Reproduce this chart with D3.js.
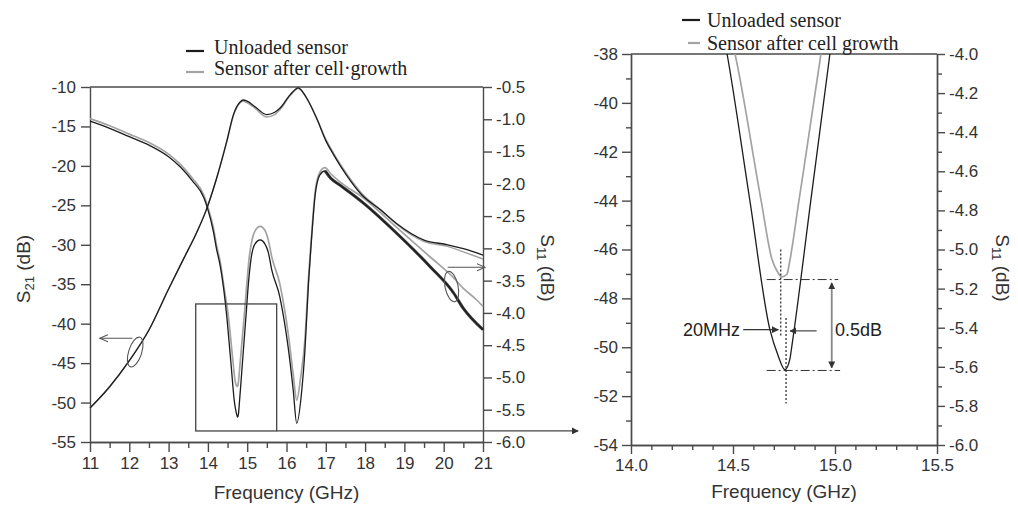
<!DOCTYPE html>
<html><head><meta charset="utf-8">
<script src="https://cdn.jsdelivr.net/npm/d3@7"></script>
<style>body{margin:0;background:#fff} svg{display:block}</style>
</head><body><svg id="c" width="1018" height="505"></svg>
<script>
// ---------------- DATA ----------------
// Frequency (GHz), S21 (dB) – left axis of left panel
const s21Unloaded = [[11.0,-50.7],[11.5,-48.0],[12.0,-44.7],[12.5,-40.8],[13.0,-35.6],[13.4,-31.6],[13.7,-28.6],[13.95,-25.7],[14.22,-21.6],[14.48,-16.9],[14.65,-13.5],[14.82,-11.9],[14.90,-11.65],[15.0,-11.8],[15.2,-12.5],[15.5,-13.5],[15.7,-13.2],[15.83,-12.7],[16.09,-11.0],[16.30,-10.1],[16.5,-11.3],[16.77,-14.0],[17.0,-16.8],[17.2,-18.6],[17.53,-21.2],[17.9,-23.6],[18.4,-25.6],[18.8,-27.3],[19.5,-29.4],[20.1,-30.0],[20.5,-30.5],[21.0,-31.3]];
const s21Loaded = [[11.0,-50.7],[11.5,-48.0],[12.0,-44.7],[12.5,-40.8],[13.0,-35.6],[13.4,-31.6],[13.7,-28.6],[13.95,-25.7],[14.22,-21.6],[14.48,-16.9],[14.65,-13.6],[14.82,-12.0],[14.90,-11.8],[15.0,-12.0],[15.2,-12.7],[15.5,-13.8],[15.7,-13.5],[15.83,-12.9],[16.09,-11.1],[16.30,-10.2],[16.5,-11.3],[16.77,-14.0],[17.0,-16.6],[17.2,-18.4],[17.53,-21.0],[17.9,-23.4],[18.4,-25.6],[18.8,-27.4],[19.5,-29.6],[20.1,-30.2],[20.5,-30.9],[21.0,-31.8]];
// Frequency (GHz), S11 (dB) – right axis
const s11Unloaded = [[11.0,-1.03],[11.5,-1.14],[12.0,-1.27],[12.5,-1.40],[13.0,-1.58],[13.3,-1.74],[13.6,-1.95],[13.9,-2.22],[14.0,-2.40],[14.14,-2.74],[14.22,-3.01],[14.31,-3.26],[14.40,-3.62],[14.471,-4.0],[14.582,-4.745],[14.681,-5.41],[14.72,-5.54],[14.755,-5.615],[14.779,-5.56],[14.789,-5.49],[14.882,-4.745],[14.975,-4.0],[15.03,-3.55],[15.10,-3.15],[15.2,-2.93],[15.33,-2.87],[15.45,-2.93],[15.54,-3.07],[15.62,-3.32],[15.83,-3.75],[16.05,-4.57],[16.17,-5.19],[16.26,-5.71],[16.39,-5.19],[16.47,-4.57],[16.56,-3.54],[16.62,-3.0],[16.73,-2.17],[16.85,-1.86],[16.98,-1.80],[17.12,-1.91],[17.36,-2.02],[17.96,-2.30],[18.81,-2.77],[19.65,-3.28],[20.24,-3.68],[20.5,-3.93],[21.0,-4.26]];
const s11Loaded = [[11.0,-0.99],[11.5,-1.10],[12.0,-1.23],[12.5,-1.36],[13.0,-1.54],[13.3,-1.70],[13.6,-1.91],[13.9,-2.18],[14.0,-2.36],[14.14,-2.68],[14.22,-2.95],[14.31,-3.20],[14.42,-3.64],[14.510,-4.0],[14.637,-4.745],[14.691,-5.05],[14.716,-5.11],[14.740,-5.14],[14.765,-5.125],[14.775,-5.078],[14.824,-4.745],[14.931,-4.0],[14.99,-3.55],[15.05,-3.15],[15.12,-2.88],[15.2,-2.73],[15.33,-2.66],[15.45,-2.72],[15.54,-2.88],[15.62,-3.12],[15.83,-3.55],[16.05,-4.35],[16.17,-4.95],[16.26,-5.35],[16.36,-5.0],[16.47,-4.4],[16.56,-3.45],[16.62,-2.95],[16.73,-2.12],[16.85,-1.82],[16.98,-1.75],[17.12,-1.84],[17.36,-1.97],[17.96,-2.22],[18.81,-2.68],[19.65,-3.13],[20.24,-3.45],[20.5,-3.62],[20.84,-3.80],[21.0,-3.90]];

const seriesNames = ["Unloaded sensor", "Sensor after cell\u00b7growth", "Sensor after cell growth"];

// ticks
const leftPanelXTicks = [11,12,13,14,15,16,17,18,19,20,21];
const leftPanelXMinor = [11.5,12.5,13.5,14.5,15.5,16.5,17.5,18.5,19.5,20.5];
const leftPanelS21Ticks = [-55,-50,-45,-40,-35,-30,-25,-20,-15,-10];
const leftPanelS11Ticks = [-6.0,-5.5,-5.0,-4.5,-4.0,-3.5,-3.0,-2.5,-2.0,-1.5,-1.0,-0.5];
const rightPanelXTicks = [14.0,14.5,15.0,15.5];
const rightPanelXMinor = [14.1,14.2,14.3,14.4,14.6,14.7,14.8,14.9,15.1,15.2,15.3,15.4];
const rightPanelLeftTicks = [-54,-52,-50,-48,-46,-44,-42,-40,-38];
const rightPanelLeftMinor = [-53,-51,-49,-47,-45,-43,-41,-39];
const rightPanelS11Ticks = [-6.0,-5.8,-5.6,-5.4,-5.2,-5.0,-4.8,-4.6,-4.4,-4.2,-4.0];
const rightPanelS11Minor = [-5.9,-5.7,-5.5,-5.3,-5.1,-4.9,-4.7,-4.5,-4.3,-4.1];

// annotations (left panel: GHz, S21 dB) 
const ellipseMarks = [{f:12.15, v:-43.6, rot:18}, {f:20.2, v:-35.3, rot:-12}];
const ellipseArrows = [{f0:12.08, f1:11.25, v:-41.85}, {f0:20.1, f1:21.05, v:-32.85}];
const zoomBox = {f0:13.69, f1:15.75, v0:-53.6, v1:-37.5, fArrow:23.42};
// right panel annotations (GHz, left-axis dB)
const dottedLines = [{f:14.734, v0:-46.0, v1:-49.55}, {f:14.76, v0:-48.8, v1:-52.3}];
const dashDotLines = [{v:-47.23, f0:14.665, f1:15.016}, {v:-50.95, f0:14.665, f1:15.025}];
const deltaArrow = {f:14.984, v0:-47.37, v1:-50.84};
const mhzArrows = [{f0:14.55, f1:14.722, v:-49.28}, {f0:14.91, f1:14.78, v:-49.33}];
const noteLabels = [{text:"20MHz", f:14.534, v:-49.55, anchor:"end"}, {text:"0.5dB", f:15.0, v:-49.55, anchor:"start"}];

// ---------------- DRAW ----------------
const svg = d3.select('#c');
const SANS = "'Liberation Sans', Arial, sans-serif";
const SERIF = "'Liberation Serif', 'Times New Roman', serif";
const AX = '#4a4a4a', TXT = '#333';
const BLACK = '#1c1c1c', GRAY = '#a3a3a3';

const defs = svg.append('defs');
defs.append('marker').attr('id','tri').attr('viewBox','0 0 10 10').attr('refX',9).attr('refY',5)
  .attr('markerWidth',7).attr('markerHeight',7).attr('markerUnits','userSpaceOnUse').attr('orient','auto-start-reverse')
  .append('path').attr('d','M0,0L10,5L0,10z').attr('fill','#333');
defs.append('marker').attr('id','chev').attr('viewBox','0 0 10 10').attr('refX',9).attr('refY',5)
  .attr('markerWidth',9).attr('markerHeight',9).attr('markerUnits','userSpaceOnUse').attr('orient','auto')
  .append('path').attr('d','M0,1L9,5L0,9').attr('fill','none').attr('stroke','#555').attr('stroke-width',1.2);
defs.append('clipPath').attr('id','clipR').append('rect').attr('x',631).attr('y',54).attr('width',306).attr('height',391);

// ===== Left panel =====
const xL = d3.scaleLinear([11,21],[90,483]);
const yL = d3.scaleLinear([-55,-10],[442,87]);
const yLR = d3.scaleLinear([-6,-0.5],[442,87]);

function styleAxis(g){
  g.selectAll('path,line').attr('stroke',AX).attr('stroke-width',1.4);
  g.selectAll('text').attr('font-family',SANS).attr('font-size',17).attr('fill',TXT);
}
const fmt1 = d => d.toFixed(1);
const fmt0 = d => String(d);

const gL = svg.append('g');
// frame top
gL.append('line').attr('x1',xL(11)).attr('x2',xL(21)).attr('y1',yL(-10)).attr('y2',yL(-10)).attr('stroke',AX).attr('stroke-width',1.4);
gL.append('g').attr('transform',`translate(0,${yL(-55)})`).call(d3.axisBottom(xL).tickValues(leftPanelXMinor).tickSize(6).tickSizeOuter(0).tickFormat('')).call(styleAxis);
gL.append('g').attr('transform',`translate(0,${yL(-55)})`).call(d3.axisBottom(xL).tickValues(leftPanelXTicks).tickSize(10).tickSizeOuter(0).tickPadding(5).tickFormat(fmt0)).call(styleAxis);
gL.append('g').attr('transform',`translate(${xL(11)},0)`).call(d3.axisLeft(yL).tickValues(leftPanelS21Ticks).tickSize(9).tickSizeOuter(0).tickPadding(5).tickFormat(fmt0)).call(styleAxis);
gL.append('g').attr('transform',`translate(${xL(21)},0)`).call(d3.axisRight(yLR).tickValues(leftPanelS11Ticks).tickSize(9).tickSizeOuter(0).tickPadding(4).tickFormat(fmt1)).call(styleAxis);

const lineS21 = d3.line().x(d=>xL(d[0])).y(d=>yL(d[1])).curve(d3.curveMonotoneX);
const lineS11 = d3.line().x(d=>xL(d[0])).y(d=>yLR(d[1])).curve(d3.curveMonotoneX);
gL.append('path').attr('d',lineS11(s11Loaded)).attr('fill','none').attr('stroke',GRAY).attr('stroke-width',1.7);
gL.append('path').attr('d',lineS21(s21Loaded)).attr('fill','none').attr('stroke',GRAY).attr('stroke-width',1.5);
gL.append('path').attr('d',lineS11(s11Unloaded)).attr('fill','none').attr('stroke',BLACK).attr('stroke-width',1.3);
gL.append('path').attr('d',lineS11(s11Unloaded.filter(d=>d[0]>=16.95))).attr('fill','none').attr('stroke',BLACK).attr('stroke-width',3).attr('opacity',0.85);
gL.append('path').attr('d',lineS21(s21Unloaded)).attr('fill','none').attr('stroke',BLACK).attr('stroke-width',1.3);

// annotations
ellipseMarks.forEach(e=>{
  gL.append('ellipse').attr('cx',0).attr('cy',0).attr('rx',6.5).attr('ry',15.5)
    .attr('transform',`translate(${xL(e.f)},${yL(e.v)}) rotate(${e.rot})`)
    .attr('fill','none').attr('stroke','#555').attr('stroke-width',1.1);
});
ellipseArrows.forEach(a=>{
  gL.append('line').attr('x1',xL(a.f0)).attr('x2',xL(a.f1)).attr('y1',yL(a.v)).attr('y2',yL(a.v))
    .attr('stroke','#555').attr('stroke-width',1.1).attr('marker-end','url(#chev)');
});
gL.append('rect').attr('x',xL(zoomBox.f0)).attr('y',yL(zoomBox.v1)).attr('width',xL(zoomBox.f1)-xL(zoomBox.f0)).attr('height',yL(zoomBox.v0)-yL(zoomBox.v1))
  .attr('fill','none').attr('stroke','#444').attr('stroke-width',1.3);
gL.append('line').attr('x1',xL(zoomBox.f1)).attr('x2',xL(zoomBox.fArrow)).attr('y1',yL(zoomBox.v0)).attr('y2',yL(zoomBox.v0))
  .attr('stroke','#444').attr('stroke-width',1.3).attr('marker-end','url(#tri)');

// titles
gL.append('text').attr('x',(xL(11)+xL(21))/2).attr('y',499).attr('text-anchor','middle').attr('font-family',SANS).attr('font-size',19).attr('fill',TXT).text('Frequency (GHz)');
function subTitle(g, x, y, rot, sub){
  const t = g.append('text').attr('transform',`translate(${x},${y}) rotate(${rot})`).attr('text-anchor','middle')
    .attr('font-family',SANS).attr('font-size',19).attr('fill',TXT);
  t.append('tspan').text('S');
  t.append('tspan').attr('font-size',13).attr('dy',4).text(sub);
  t.append('tspan').attr('dy',-4).text(' (dB)');
}
subTitle(gL, 30, 269, -90, '21');
subTitle(gL, 541, 268, 90, '11');

// legend left
function legend(g, x0, x1, xt, items){
  items.forEach(it=>{
    g.append('line').attr('x1',it.lx0).attr('x2',x1).attr('y1',it.ly).attr('y2',it.ly).attr('stroke',it.c).attr('stroke-width',it.w);
    g.append('text').attr('x',xt).attr('y',it.ty).attr('font-family',SERIF).attr('font-size',20).attr('fill','#222').text(it.t);
  });
}
legend(gL, 186, 204, 214, [
  {lx0:186, ly:51, ty:54, c:BLACK, w:2.2, t:seriesNames[0]},
  {lx0:186, ly:72, ty:75, c:GRAY, w:2.2, t:seriesNames[1]}
]);

// ===== Right panel =====
const x2 = d3.scaleLinear([14,15.5],[631,937]);
const y2 = d3.scaleLinear([-54,-38],[445,54]);
const y2R = d3.scaleLinear([-6,-4],[445,54]);
const gR = svg.append('g');
gR.append('line').attr('x1',x2(14)).attr('x2',x2(15.5)).attr('y1',y2(-38)).attr('y2',y2(-38)).attr('stroke',AX).attr('stroke-width',1.4);
gR.append('g').attr('transform',`translate(0,${y2(-54)})`).call(d3.axisBottom(x2).tickValues(rightPanelXMinor).tickSize(5).tickSizeOuter(0).tickFormat('')).call(styleAxis);
gR.append('g').attr('transform',`translate(0,${y2(-54)})`).call(d3.axisBottom(x2).tickValues(rightPanelXTicks).tickSize(9).tickSizeOuter(0).tickPadding(5).tickFormat(fmt1)).call(styleAxis);
gR.append('g').attr('transform',`translate(${x2(14)},0)`).call(d3.axisLeft(y2).tickValues(rightPanelLeftMinor).tickSize(5).tickSizeOuter(0).tickFormat('')).call(styleAxis);
gR.append('g').attr('transform',`translate(${x2(14)},0)`).call(d3.axisLeft(y2).tickValues(rightPanelLeftTicks).tickSize(9).tickSizeOuter(0).tickPadding(4).tickFormat(fmt0)).call(styleAxis);
gR.append('g').attr('transform',`translate(${x2(15.5)},0)`).call(d3.axisRight(y2R).tickValues(rightPanelS11Minor).tickSize(5).tickSizeOuter(0).tickFormat('')).call(styleAxis);
gR.append('g').attr('transform',`translate(${x2(15.5)},0)`).call(d3.axisRight(y2R).tickValues(rightPanelS11Ticks).tickSize(8).tickSizeOuter(0).tickPadding(4).tickFormat(fmt1)).call(styleAxis);

const line2 = d3.line().x(d=>x2(d[0])).y(d=>y2R(d[1])).curve(d3.curveMonotoneX);
const gc = gR.append('g').attr('clip-path','url(#clipR)');
gc.append('path').attr('d',line2(s11Loaded)).attr('fill','none').attr('stroke',GRAY).attr('stroke-width',1.7);
gc.append('path').attr('d',line2(s11Unloaded)).attr('fill','none').attr('stroke',BLACK).attr('stroke-width',1.3);

dottedLines.forEach(l=>{
  gR.append('line').attr('x1',x2(l.f)).attr('x2',x2(l.f)).attr('y1',y2(l.v0)).attr('y2',y2(l.v1))
    .attr('stroke','#333').attr('stroke-width',1.3).attr('stroke-dasharray','2,2');
});
dashDotLines.forEach(l=>{
  gR.append('line').attr('x1',x2(l.f0)).attr('x2',x2(l.f1)).attr('y1',y2(l.v)).attr('y2',y2(l.v))
    .attr('stroke','#333').attr('stroke-width',1).attr('stroke-dasharray','9,3,2,3');
});
gR.append('line').attr('x1',x2(deltaArrow.f)).attr('x2',x2(deltaArrow.f)).attr('y1',y2(deltaArrow.v0)).attr('y2',y2(deltaArrow.v1))
  .attr('stroke','#888').attr('stroke-width',1.8).attr('marker-start','url(#tri)').attr('marker-end','url(#tri)');
mhzArrows.forEach(a=>{
  gR.append('line').attr('x1',x2(a.f0)).attr('x2',x2(a.f1)).attr('y1',y2(a.v)).attr('y2',y2(a.v))
    .attr('stroke','#333').attr('stroke-width',1.1).attr('marker-end','url(#tri)');
});
noteLabels.forEach(n=>{
  gR.append('text').attr('x',x2(n.f)).attr('y',y2(n.v)).attr('text-anchor',n.anchor).attr('font-family',SANS).attr('font-size',18).attr('fill','#222').text(n.text);
});

gR.append('text').attr('x',(x2(14)+x2(15.5))/2).attr('y',498).attr('text-anchor','middle').attr('font-family',SANS).attr('font-size',19).attr('fill',TXT).text('Frequency (GHz)');
subTitle(gR, 996, 268, 90, '11');
legend(gR, 682, 700, 707, [
  {lx0:682, ly:20, ty:27, c:BLACK, w:2.2, t:seriesNames[0]},
  {lx0:688, ly:43, ty:50, c:GRAY, w:2.2, t:seriesNames[2]}
]);
</script></body></html>
